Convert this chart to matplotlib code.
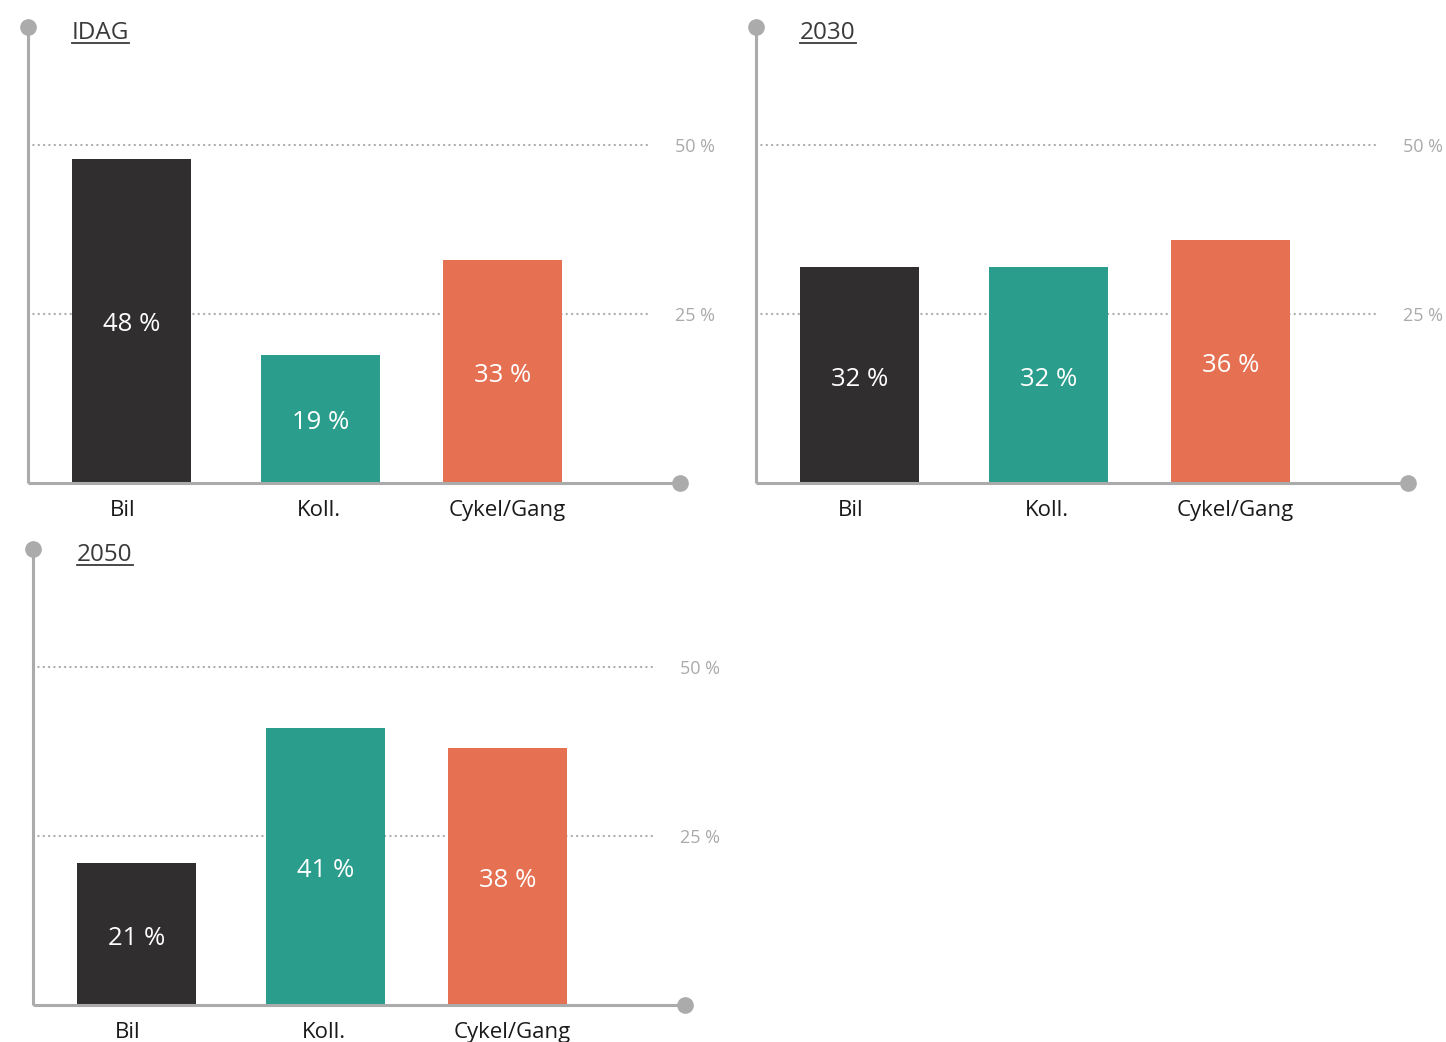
import matplotlib.pyplot as plt
from matplotlib.lines import Line2D

plt.rcParams['font.family'] = ['Open Sans', 'DejaVu Sans']

# data
titles = ["IDAG", "2030", "2050"]
categories = ["Bil", "Koll.", "Cykel/Gang"]
idag = [48, 19, 33]
y2030 = [32, 32, 36]
y2050 = [21, 41, 38]
grid_values = [25, 50]
grid_labels = ["25 %", "50 %"]

series = [idag, y2030, y2050]
colors = ["#302e2f", "#2a9d8c", "#e57052"]
axis_col = "#ababab"

# layout in pixels (figure is 1446 x 1042)
W, H = 1446, 1042
px_per_pct = 6.76
panels = [(28, 483), (756, 483), (33, 1005)]   # (x of y-axis, y of baseline)
panel_w, panel_h = 652, 456
bar_pos = [103.5, 292.5, 474.5]
bar_w = 119
label_dx = [-9, -2, 5]

fig = plt.figure(figsize=(W / 100, H / 100), dpi=100)
ymax = panel_h / px_per_pct

axes = []
for (x0, yb), title, vals in zip(panels, titles, series):
    ax = fig.add_axes([x0 / W, (H - yb) / H, panel_w / W, panel_h / H])
    ax.set_xlim(0, panel_w)
    ax.set_ylim(0, ymax)
    ax.axis("off")

    # dotted grid lines + labels
    for g, gl in zip(grid_values, grid_labels):
        ax.plot([0, 620], [g, g], color=axis_col, lw=1.6,
                linestyle=(0, (0.1, 2.3)), dash_capstyle="round", zorder=1)
        ax.annotate(gl, (667, g), xytext=(0, -1.5), textcoords="offset points",
                    color="#aaaaaa", fontsize=13, ha="center", va="center",
                    annotation_clip=False)

    # bars
    ax.bar(bar_pos, vals, width=bar_w, color=colors, zorder=2)
    for x, v, c, dx in zip(bar_pos, vals, categories, label_dx):
        ax.annotate(f"{v} %", (x, v / 2), xytext=(0, -3),
                    textcoords="offset points", ha="center", va="center",
                    color="white", fontsize=18.5)
        ax.annotate(c, (x + dx, 0), xytext=(0, -12.5),
                    textcoords="offset points", ha="center", va="top",
                    color="#1a1a1a", fontsize=16, annotation_clip=False)

    # axis lines with end dots
    ax.plot([0, 0], [0, ymax], color=axis_col, lw=2.2, zorder=3,
            clip_on=False, solid_capstyle="butt")
    ax.plot([0, panel_w], [0, 0], color=axis_col, lw=2.2, zorder=3,
            clip_on=False, solid_capstyle="butt")
    ax.plot([0], [ymax], "o", color=axis_col, ms=11, zorder=4, clip_on=False)
    ax.plot([panel_w], [0], "o", color=axis_col, ms=11, zorder=4,
            clip_on=False)

    # title
    t = ax.annotate(title, (44, ymax), xytext=(0, -4),
                    textcoords="offset points", ha="left", va="center",
                    color="#3a3a3a", fontsize=17.5, annotation_clip=False)
    axes.append((ax, t))

# underline the titles
fig.canvas.draw()
r = fig.canvas.get_renderer()
for ax, t in axes:
    bb = t.get_window_extent(r)
    y = bb.y0 + 2
    fig.add_artist(Line2D([bb.x0 / W, bb.x1 / W], [y / H, y / H],
                          color="#3a3a3a", lw=1.3))

fig.savefig("out.png", dpi=100, facecolor="white")
